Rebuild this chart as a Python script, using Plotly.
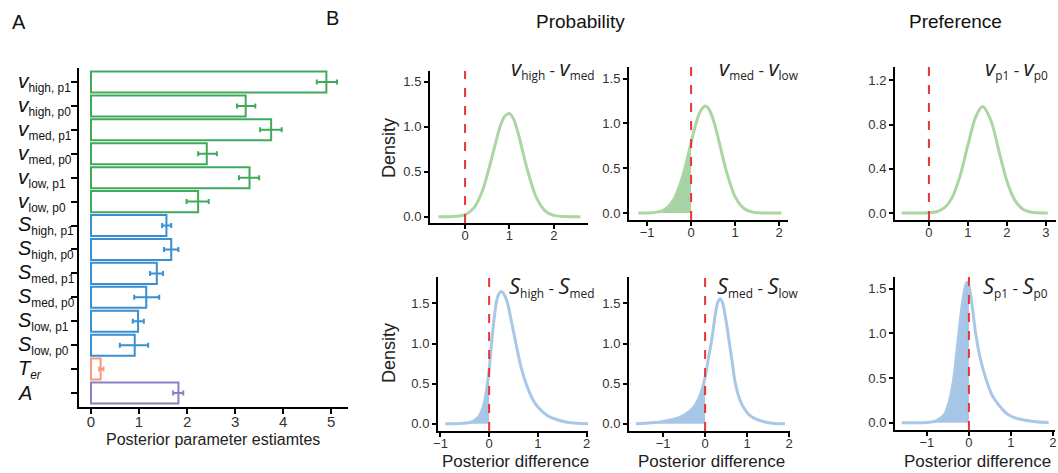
from __future__ import annotations

import plotly.graph_objects as go

W, H = 1058, 473


def big(letter, size):
    return f"<i><span style='font-size:{size}px'>{letter}</span></i>"


# panel A: posterior parameter estimates (mean, lower, upper)
PARAM_LABELS = [
    big("v", 21) + "<sub>high, p1</sub>", big("v", 21) + "<sub>high, p0</sub>",
    big("v", 21) + "<sub>med, p1</sub>", big("v", 21) + "<sub>med, p0</sub>",
    big("v", 21) + "<sub>low, p1</sub>", big("v", 21) + "<sub>low, p0</sub>",
    big("S", 20) + "<sub>high, p1</sub>", big("S", 20) + "<sub>high, p0</sub>",
    big("S", 20) + "<sub>med, p1</sub>", big("S", 20) + "<sub>med, p0</sub>",
    big("S", 20) + "<sub>low, p1</sub>", big("S", 20) + "<sub>low, p0</sub>",
    big("T", 20) + "<sub><i>er</i></sub>", big("A", 20),
]
PARAM_GROUP = ["v"] * 6 + ["S"] * 6 + ["T"] + ["A"]
PARAM_MEAN = [4.90, 3.22, 3.75, 2.41, 3.30, 2.23, 1.57, 1.67, 1.37, 1.15, 0.98, 0.91, 0.20, 1.82]
PARAM_LOW = [4.70, 3.04, 3.52, 2.23, 3.08, 1.99, 1.48, 1.52, 1.23, 0.90, 0.87, 0.60, 0.17, 1.71]
PARAM_HIGH = [5.12, 3.42, 3.97, 2.62, 3.50, 2.45, 1.67, 1.82, 1.50, 1.42, 1.10, 1.19, 0.26, 1.92]

GROUP_COLORS = {"v": "#41a95b", "S": "#3a8fd0", "T": "#f59a80", "A": "#8a7fc4"}

# panel B: posterior difference densities
VHM_X = [-0.6, -0.4, -0.2, 0.0, 0.2, 0.4, 0.6, 0.8, 0.9, 1.0, 1.1, 1.2, 1.4, 1.6, 1.8, 2.0, 2.2, 2.4, 2.6]
VHM_Y = [0.0, 0.0005, 0.004, 0.023, 0.098, 0.30, 0.65, 1.02, 1.12, 1.146, 1.08, 0.92, 0.53, 0.22, 0.066, 0.014, 0.002, 0.0002, 0.0]

VML_X = [-1.2, -1.0, -0.8, -0.6, -0.4, -0.2, 0.0, 0.1, 0.2, 0.32, 0.4, 0.5, 0.6, 0.8, 1.0, 1.2, 1.4, 1.6, 1.8, 2.05]
VML_Y = [0.0001, 0.001, 0.007, 0.038, 0.144, 0.396, 0.787, 0.98, 1.127, 1.195, 1.164, 1.047, 0.868, 0.467, 0.181, 0.051, 0.010, 0.0015, 0.0001, 0.0]

VP_X = [-0.7, -0.4, -0.2, 0.0, 0.2, 0.4, 0.6, 0.8, 1.0, 1.2, 1.38, 1.6, 1.8, 2.0, 2.2, 2.4, 2.6, 2.8, 3.05]
VP_Y = [0.0, 0.0, 0.0004, 0.0025, 0.012, 0.048, 0.144, 0.336, 0.613, 0.869, 0.962, 0.827, 0.554, 0.289, 0.118, 0.037, 0.009, 0.002, 0.0001]

SHM_X = [-0.9, -0.6, -0.4, -0.3, -0.2, -0.1, 0.0, 0.05, 0.1, 0.15, 0.2, 0.25, 0.3, 0.38, 0.45, 0.55, 0.65, 0.76, 0.9, 1.0, 1.2, 1.4, 1.6, 1.8, 2.05]
SHM_Y = [0.0, 0.003, 0.015, 0.04, 0.10, 0.26, 0.68, 1.0, 1.3, 1.52, 1.62, 1.65, 1.62, 1.5, 1.3, 1.0, 0.72, 0.5, 0.3, 0.21, 0.10, 0.05, 0.02, 0.007, 0.001]

SML_X = [-1.65, -1.4, -1.2, -1.0, -0.8, -0.6, -0.4, -0.25, -0.1, 0.0, 0.08, 0.16, 0.24, 0.3, 0.36, 0.42, 0.5, 0.58, 0.65, 0.72, 0.82, 0.92, 1.05, 1.2, 1.4, 1.6, 1.9]
SML_Y = [0.0, 0.006, 0.015, 0.03, 0.05, 0.08, 0.14, 0.22, 0.38, 0.58, 0.82, 1.05, 1.35, 1.51, 1.56, 1.5, 1.28, 1.0, 0.75, 0.5, 0.31, 0.2, 0.11, 0.06, 0.025, 0.008, 0.0]

SP_X = [-1.6, -1.2, -1.0, -0.8, -0.65, -0.57, -0.46, -0.36, -0.24, -0.15, -0.055, 0.0, 0.08, 0.16, 0.28, 0.4, 0.55, 0.71, 0.91, 1.1, 1.35, 1.6, 1.9]
SP_Y = [0.0, 0.001, 0.004, 0.02, 0.06, 0.10, 0.25, 0.5, 1.0, 1.35, 1.57, 1.53, 1.3, 1.0, 0.7, 0.5, 0.31, 0.2, 0.1, 0.055, 0.03, 0.012, 0.003]

FONT = "Liberation Sans, Arial, sans-serif"
MATH_FONT = "Open Sans, Liberation Sans, sans-serif"
GREEN_LINE, GREEN_FILL = "#acd5a4", "rgba(120,186,115,0.65)"
BLUE_LINE, BLUE_FILL = "#a9c7e6", "rgba(130,172,220,0.7)"


def px_x(p):
    return p / W


def px_y(p):
    return 1 - p / H


def axis_style(**kw):
    base = dict(showline=True, linecolor="black", linewidth=2, ticks="outside",
                ticklen=4, tickwidth=1.5, tickcolor="black", showgrid=False,
                zeroline=False, automargin=False,
                tickfont=dict(family=FONT, size=13, color="#333"))
    base.update(kw)
    return base


def add_text(fig, text, x, y, size, anchor="center", angle=0, font=FONT, color="#222"):
    fig.add_annotation(x=px_x(x), y=px_y(y), xref="paper", yref="paper", text=text,
                       showarrow=False, xanchor=anchor, yanchor="middle", textangle=angle,
                       font=dict(family=font, size=size, color=color))


def main():
    fig = go.Figure()

    # ---- panel A ----
    for grp, color in GROUP_COLORS.items():
        idx = [i for i, g in enumerate(PARAM_GROUP) if g == grp]
        means = [PARAM_MEAN[i] for i in idx]
        fig.add_trace(go.Bar(
            x=means, y=[PARAM_LABELS[i] for i in idx], orientation="h",
            width=0.88, xaxis="x", yaxis="y",
            marker=dict(color="white", line=dict(color=color, width=2)),
            error_x=dict(type="data", symmetric=False,
                         array=[PARAM_HIGH[i] - PARAM_MEAN[i] for i in idx],
                         arrayminus=[PARAM_MEAN[i] - PARAM_LOW[i] for i in idx],
                         color=color, thickness=2, width=2.5),
            showlegend=False, hoverinfo="x",
        ))

    fig.update_layout(
        xaxis=axis_style(domain=[px_x(79), px_x(348)], anchor="y", range=[-0.25, 5.35],
                         tickvals=[0, 1, 2, 3, 4, 5], ticklen=5, ticklabelstandoff=-5,
                         tickfont=dict(family=FONT, size=15, color="#333")),
        yaxis=axis_style(domain=[px_y(407), px_y(68)], anchor="x",
                         categoryorder="array", categoryarray=PARAM_LABELS[::-1],
                         range=[-0.585, 13.585], showticklabels=False, ticklen=6),
    )
    for lab in PARAM_LABELS:
        fig.add_annotation(x=px_x(16), xref="paper", y=lab, yref="y", text=lab,
                           xanchor="left", yanchor="middle", showarrow=False,
                           font=dict(family=FONT, size=17, color="#111"))
    add_text(fig, "Posterior parameter estiamtes", 213, 439, 16)

    # ---- panel B ----
    panels = [
        (VHM_X, VHM_Y, "green", False, (430, 588, 223, 71), [-0.79, 2.77], [-0.07, 1.62], [0, 1, 2], [0, 0.5, 1, 1.5],
         big("v", 22) + "<sub>high</sub> - " + big("v", 22) + "<sub>med</sub>", 597, 67),
        (VML_X, VML_Y, "green", True, (629, 788, 220, 67), [-1.41, 2.2], [-0.078, 1.63], [-1, 0, 1, 2], [0, 0.5, 1, 1.5],
         big("v", 22) + "<sub>med</sub> - " + big("v", 22) + "<sub>low</sub>", 801, 67),
        (VP_X, VP_Y, "green", False, (895, 1056, 220, 67), [-0.87, 3.26], [-0.063, 1.32], [0, 1, 2, 3], [0, 0.4, 0.8, 1.2],
         big("v", 22) + "<sub>p1</sub> - " + big("v", 22) + "<sub>p0</sub>", 1050, 67),
        (SHM_X, SHM_Y, "blue", True, (438, 588, 431, 277), [-1.05, 2.03], [-0.09, 1.83], [-1, 0, 1, 2], [0, 0.5, 1, 1.5],
         big("S", 22) + "<sub>high</sub> - " + big("S", 22) + "<sub>med</sub>", 597, 285),
        (SML_X, SML_Y, "blue", True, (629, 790, 431, 277), [-1.81, 2.02], [-0.09, 1.83], [-1, 0, 1, 2], [0, 0.5, 1, 1.5],
         big("S", 22) + "<sub>med</sub> - " + big("S", 22) + "<sub>low</sub>", 801, 285),
        (SP_X, SP_Y, "blue", True, (895, 1055, 430, 277), [-1.76, 2.05], [-0.08, 1.63], [-1, 0, 1, 2], [0, 0.5, 1, 1.5],
         big("S", 22) + "<sub>p1</sub> - " + big("S", 22) + "<sub>p0</sub>", 1050, 285),
    ]

    for k, (xs, ys, col, shade, box, xr, yr, xt, yt, label, lab_x, lab_y) in enumerate(panels):
        n = k + 2
        xa, ya = f"x{n}", f"y{n}"
        line_c = GREEN_LINE if col == "green" else BLUE_LINE
        fill_c = GREEN_FILL if col == "green" else BLUE_FILL
        if shade:
            sx = [x for x in xs if x <= 0]
            sy = [y for x, y in zip(xs, ys) if x <= 0]
            fig.add_trace(go.Scatter(x=sx, y=sy, xaxis=xa, yaxis=ya, mode="lines",
                                     line=dict(width=0, shape="spline", smoothing=0.8),
                                     fill="tozeroy", fillcolor=fill_c, showlegend=False, hoverinfo="skip"))
        fig.add_trace(go.Scatter(x=xs, y=ys, xaxis=xa, yaxis=ya, mode="lines",
                                 line=dict(color=line_c, width=3, shape="spline", smoothing=0.8),
                                 showlegend=False))
        x0, x1, yb, ytop = box
        xkw = dict(domain=[px_x(x0), px_x(x1)], anchor=ya, range=xr, tickvals=xt, ticklabelstandoff=-5)
        ykw = dict(domain=[px_y(yb), px_y(ytop)], anchor=xa, range=yr, tickvals=yt, tickformat=".1f")
        fig.update_layout(**{f"xaxis{n}": axis_style(**xkw), f"yaxis{n}": axis_style(**ykw)})
        fig.add_shape(type="line", xref=xa, yref=f"{ya} domain", x0=0, x1=0, y0=0, y1=1,
                      line=dict(color="#e8353a", width=2, dash="dash"))
        fig.add_annotation(x=px_x(lab_x), xref="paper", y=px_y(lab_y), yref="paper", text=label,
                           xanchor="right", yanchor="middle", showarrow=False,
                           font=dict(family=MATH_FONT, size=17, color="#222"))
        if yb > 300:
            add_text(fig, "Posterior difference", (x0 + x1) / 2 + 2, 461, 17)

    add_text(fig, "Density", 389, 148, 18, angle=-90)
    add_text(fig, "Density", 389, 353, 18, angle=-90)

    # ---- headings ----
    add_text(fig, "A", 10, 22, 20, anchor="left", color="#111")
    add_text(fig, "B", 324, 18, 20, anchor="left", color="#111")
    add_text(fig, "Probability", 580, 21, 19, color="#111")
    add_text(fig, "Preference", 955, 21, 19, color="#111")

    fig.update_layout(width=W, height=H, margin=dict(l=0, r=0, t=0, b=0),
                      plot_bgcolor="white", paper_bgcolor="white", bargap=0.1)
    fig.write_html("out.html", config={"displayModeBar": False},
                   post_script="document.body.style.margin='0';document.body.style.overflow='hidden';")


if __name__ == "__main__":
    main()
